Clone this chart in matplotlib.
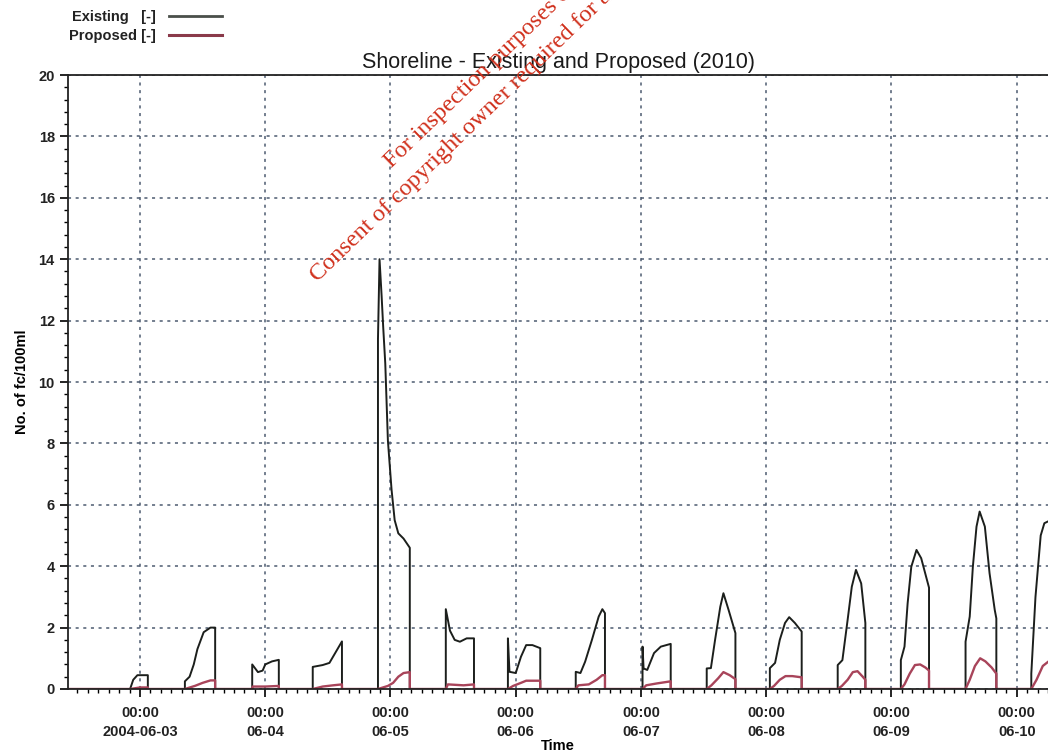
import numpy as np
import pandas as pd
import matplotlib
matplotlib.use('Agg')
import matplotlib.pyplot as plt
import matplotlib.dates as mdates
from matplotlib.ticker import MultipleLocator, FuncFormatter

# Donnees (heures depuis 2004-06-03 00:00)
t_existing = [-13.8, -1.9, -1.3, -0.5, 1.5, 1.5,
              8.6, 8.6, 9.5, 10.3, 11.0, 12.2, 13.5, 14.4, 14.4,
              21.5, 21.5, 22.6, 23.5, 24.0, 25.3, 26.6, 26.6,
              33.1, 33.1, 35.0, 36.3, 38.7, 38.7,
              45.6, 45.6, 45.9, 46.3, 46.6, 47.0, 47.5, 48.2, 48.8, 49.5, 50.5, 51.7, 51.7,
              58.6, 58.6, 59.4, 60.3, 61.3, 62.6, 64.0, 64.0,
              70.5, 70.5, 70.8, 72.0, 73.0, 74.0, 75.2, 76.7, 76.7,
              83.5, 83.5, 84.4, 85.3, 86.6, 87.9, 88.6, 89.1, 89.1,
              96.3, 96.3, 96.5, 97.2, 98.5, 99.8, 101.7, 101.7,
              108.6, 108.6, 109.4, 110.2, 111.2, 111.8, 112.8, 114.1, 114.1,
              120.7, 120.7, 121.7, 122.6, 123.6, 124.4, 125.5, 126.8, 126.8,
              133.7, 133.7, 134.6, 135.6, 136.4, 137.2, 138.2, 139.0, 139.0,
              145.8, 145.8, 146.5, 147.1, 147.8, 148.8, 149.7, 150.8, 151.2, 151.2,
              158.2, 158.2, 159.0, 159.6, 160.3, 160.9, 161.9, 162.8, 163.8, 164.1, 164.1,
              170.8, 170.8, 171.6, 172.6, 173.3, 174.5]
v_existing = [0, 0, 0.3, 0.45, 0.45, 0,
              0, 0.25, 0.4, 0.8, 1.3, 1.85, 2.0, 2.0, 0,
              0, 0.8, 0.55, 0.6, 0.8, 0.9, 0.95, 0,
              0, 0.72, 0.78, 0.85, 1.55, 0,
              0, 11.4, 14.0, 12.8, 11.8, 10.6, 8.1, 6.5, 5.5, 5.07, 4.9, 4.6, 0,
              0, 2.6, 1.9, 1.6, 1.54, 1.65, 1.65, 0,
              0, 1.65, 0.56, 0.52, 1.05, 1.43, 1.43, 1.33, 0,
              0, 0.56, 0.52, 0.89, 1.6, 2.36, 2.6, 2.47, 0,
              0, 1.38, 0.67, 0.62, 1.17, 1.38, 1.47, 0,
              0, 0.67, 0.68, 1.6, 2.68, 3.12, 2.57, 1.82, 0,
              0, 0.68, 0.85, 1.6, 2.15, 2.34, 2.15, 1.87, 0,
              0, 0.78, 0.94, 2.25, 3.33, 3.88, 3.44, 2.15, 0,
              0, 0.94, 1.38, 2.79, 3.98, 4.53, 4.26, 3.55, 3.3, 0,
              0, 1.54, 2.36, 3.98, 5.29, 5.78, 5.29, 3.77, 2.57, 2.3, 0,
              0, 0.5, 3.0, 5.0, 5.4, 5.5]

t_proposed = [-13.8, -1.9, 0.0, 1.5, 1.5,
              8.6, 10.5, 12.0, 13.5, 14.4, 14.4,
              21.5, 21.6, 24.0, 26.6, 26.6,
              33.1, 35.0, 37.0, 38.7, 38.7,
              45.6, 47.5, 48.5, 49.5, 50.5, 51.7, 51.7,
              58.6, 59.0, 62.0, 64.0, 64.0,
              70.5, 71.5, 73.0, 74.0, 76.7, 76.7,
              83.5, 84.0, 86.0, 87.5, 88.6, 89.1, 89.1,
              96.3, 97.0, 99.0, 101.7, 101.7,
              108.6, 109.5, 110.8, 111.8, 113.0, 114.1, 114.1,
              120.7, 121.5, 122.6, 123.7, 125.0, 126.8, 126.8,
              133.7, 134.5, 135.6, 136.6, 137.5, 138.5, 139.0, 139.0,
              145.8, 146.5, 147.5, 148.5, 149.5, 150.5, 151.2, 151.2,
              158.2, 159.0, 160.0, 161.0, 162.0, 163.2, 164.1, 164.1,
              170.8, 171.8, 173.0, 174.5]
v_proposed = [0, 0, 0.05, 0.05, 0,
              0, 0.1, 0.2, 0.28, 0.28, 0,
              0, 0.08, 0.08, 0.1, 0,
              0, 0.08, 0.12, 0.15, 0,
              0, 0.1, 0.2, 0.4, 0.52, 0.55, 0,
              0, 0.15, 0.12, 0.15, 0,
              0, 0.1, 0.2, 0.27, 0.27, 0,
              0, 0.12, 0.15, 0.3, 0.45, 0.45, 0,
              0, 0.12, 0.18, 0.25, 0,
              0, 0.12, 0.35, 0.55, 0.45, 0.32, 0,
              0, 0.1, 0.3, 0.42, 0.42, 0.38, 0,
              0, 0.1, 0.3, 0.55, 0.58, 0.4, 0.3, 0,
              0, 0.15, 0.5, 0.78, 0.8, 0.7, 0.6, 0,
              0, 0.3, 0.75, 1.0, 0.9, 0.7, 0.5, 0,
              0, 0.3, 0.75, 0.95]

base = pd.Timestamp('2004-06-03 00:00')
x_ex = base + pd.to_timedelta(t_existing, unit='h')
x_pr = base + pd.to_timedelta(t_proposed, unit='h')
x_min = base + pd.Timedelta(hours=-13.8)
x_max = base + pd.Timedelta(hours=174.0)

police = ['Liberation Sans Narrow', 'Liberation Sans', 'DejaVu Sans']

fig = plt.figure(figsize=(10.48, 7.54), dpi=100)
ax = fig.add_axes([68 / 1048, 1 - 689 / 754, 1 - 68 / 1048, (689 - 75) / 754])

l1, = ax.plot(x_ex, v_existing, color='#1c1f1c', lw=1.4, label='Existing   [-]')
l2, = ax.plot(x_pr, v_proposed, color='#a8445a', lw=1.7, label='Proposed [-]')

ax.set_xlim(x_min, x_max)
ax.set_ylim(0, 20)

# axe x : un jour par graduation principale
ax.xaxis.set_major_locator(mdates.DayLocator())
ax.xaxis.set_minor_locator(mdates.HourLocator(byhour=range(0, 24, 2)))


def fmt_date(x, pos):
    d = mdates.num2date(x)
    if d.day == 3:
        return '00:00\n' + d.strftime('%Y-%m-%d')
    return '00:00\n' + d.strftime('%m-%d')


ax.xaxis.set_major_formatter(FuncFormatter(fmt_date))
ax.yaxis.set_major_locator(MultipleLocator(2))
ax.yaxis.set_minor_locator(MultipleLocator(0.4))

ax.tick_params(which='major', direction='out', length=6, width=1.2, labelsize=10.5)
ax.tick_params(axis='x', which='major', pad=6)
ax.tick_params(which='minor', direction='out', length=3, width=1)
for lab in ax.get_xticklabels() + ax.get_yticklabels():
    lab.set_family(police)
    lab.set_fontweight('bold')
    lab.set_color('#222222')
for lab in ax.get_xticklabels():
    lab.set_linespacing(1.45)

ax.grid(True, which='major', color='#4d5b70', linestyle=(0, (2, 3)), linewidth=1.1)

for s in ['left', 'bottom', 'top']:
    ax.spines[s].set_linewidth(1.3)
    ax.spines[s].set_color('#222222')
ax.spines['right'].set_visible(False)

ax.set_title('Shoreline - Existing and Proposed (2010)', fontsize=15.5,
             family=['Liberation Sans', 'DejaVu Sans'], color='#1a1a1a', pad=5)
ax.set_ylabel('No. of fc/100ml', family=police, fontweight='bold', fontsize=10.5, labelpad=7)
ax.set_xlabel('Time', family=police, fontweight='bold', fontsize=10.5, labelpad=0)

leg = ax.legend(handles=[l1, l2], loc='upper left', bbox_to_anchor=(56 / 1048, 1 + 3 / 754),
                bbox_transform=fig.transFigure, frameon=False, markerfirst=False,
                handlelength=3.6, handletextpad=0.9, labelspacing=0.35,
                prop={'family': police, 'weight': 'bold', 'size': 10.5})
for txt in leg.get_texts():
    txt.set_color('#222222')
leg.get_lines()[0].set_color('#4a4f4a')
leg.get_lines()[0].set_linewidth(2)
leg.get_lines()[1].set_color('#8a3a4a')
leg.get_lines()[1].set_linewidth(2.2)

# filigrane rouge
fig.text(392 / 1048, 1 - 168 / 754, 'For inspection purposes only.', rotation=44,
         rotation_mode='anchor', ha='left', va='baseline', color='#d0301c',
         fontsize=17.5, family=['Liberation Serif', 'DejaVu Serif'])
fig.text(318 / 1048, 1 - 282 / 754, 'Consent of copyright owner required for any other use.',
         rotation=44, rotation_mode='anchor', ha='left', va='baseline', color='#d0301c',
         fontsize=17.5, family=['Liberation Serif', 'DejaVu Serif'])

fig.savefig('out.png', dpi=100)
